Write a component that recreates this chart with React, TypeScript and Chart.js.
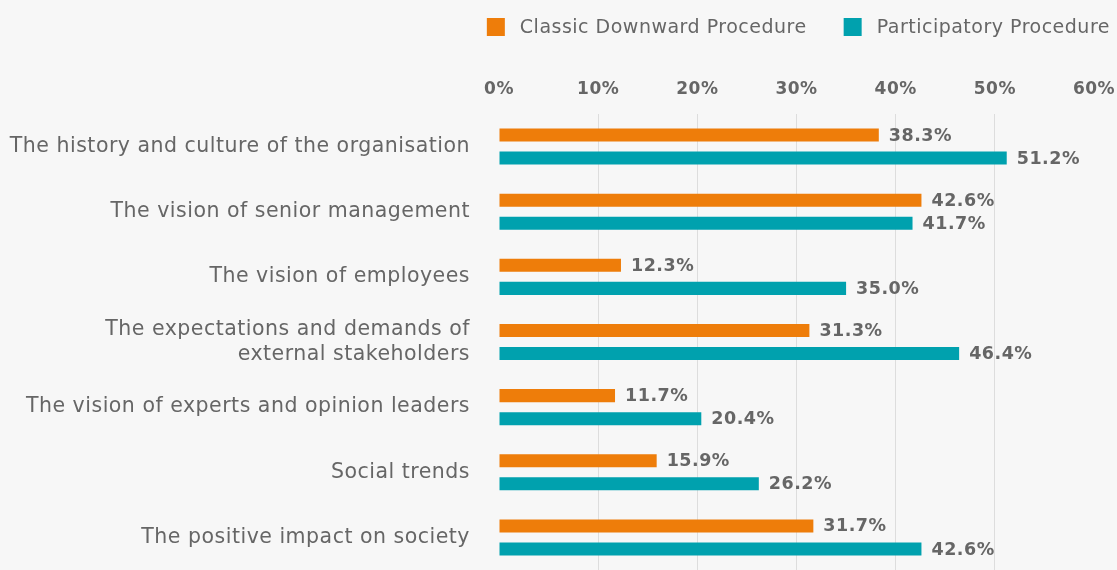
import React, { useEffect, useRef } from "react";
import { Chart, registerables } from "chart.js";

Chart.register(...registerables);

const categories: (string | string[])[] = [
  "The history and culture of the organisation",
  "The vision of senior management",
  "The vision of employees",
  ["The expectations and demands of", "external stakeholders"],
  "The vision of experts and opinion leaders",
  "Social trends",
  "The positive impact on society",
];
const seriesNames = ["Classic Downward Procedure", "Participatory Procedure"];
const classicValues = [38.3, 42.6, 12.3, 31.3, 11.7, 15.9, 31.7];
const participatoryValues = [51.2, 41.7, 35.0, 46.4, 20.4, 26.2, 42.6];
const seriesColors = ["#EE7D0A", "#00A1AE"];
const xMin = 0;
const xMax = 60;
const xStep = 10;

const FONT = "'DejaVu Sans', 'Open Sans', sans-serif";
const TEXT = "#666666";
const BG = "#f7f7f7";
const SPACING = "0.5px";

const spacingPlugin = {
  id: "letterSpacing",
  beforeUpdate(chart: any) {
    chart.ctx.letterSpacing = SPACING;
  },
  beforeDraw(chart: any) {
    chart.ctx.letterSpacing = SPACING;
  },
};

const valueLabelPlugin = {
  id: "valueLabels",
  afterDatasetsDraw(chart: any) {
    const ctx = chart.ctx;
    ctx.save();
    ctx.letterSpacing = SPACING;
    ctx.font = `700 17.5px ${FONT}`;
    ctx.fillStyle = TEXT;
    ctx.textAlign = "left";
    ctx.textBaseline = "middle";
    chart.data.datasets.forEach((ds: any, i: number) => {
      const meta = chart.getDatasetMeta(i);
      meta.data.forEach((bar: any, j: number) => {
        const v = ds.data[j] as number;
        ctx.fillText(v.toFixed(1) + "%", bar.x + 10, bar.y + 1);
      });
    });
    ctx.restore();
  },
};

const legendPlugin = {
  id: "customLegend",
  afterDraw(chart: any) {
    const ctx = chart.ctx;
    ctx.save();
    ctx.letterSpacing = SPACING;
    ctx.font = `400 19px ${FONT}`;
    ctx.textBaseline = "middle";
    ctx.textAlign = "left";
    const box = 18;
    const boxGap = 15;
    const itemGap = 37;
    const right = 1110;
    const items = chart.data.datasets.map((ds: any) => ({
      label: ds.label as string,
      color: ds.backgroundColor as string,
      w: ctx.measureText(ds.label).width,
    }));
    let total = 0;
    items.forEach((it: any, i: number) => {
      total += box + boxGap + it.w + (i > 0 ? itemGap : 0);
    });
    let x = right - total;
    const cy = 27;
    items.forEach((it: any) => {
      ctx.fillStyle = it.color;
      ctx.fillRect(x, cy - box / 2, box, box);
      x += box + boxGap;
      ctx.fillStyle = TEXT;
      ctx.fillText(it.label, x, cy + 1);
      x += it.w + itemGap;
    });
    ctx.restore();
  },
};

export default function App() {
  const ref = useRef<HTMLCanvasElement | null>(null);

  useEffect(() => {
    document.body.style.margin = "0";
    document.body.style.background = BG;
    if (!ref.current) return;
    const chart = new Chart(ref.current, {
      type: "bar",
      data: {
        labels: categories,
        datasets: [
          {
            label: seriesNames[0],
            data: classicValues,
            backgroundColor: seriesColors[0],
            categoryPercentage: 0.708,
            barPercentage: 0.565,
          },
          {
            label: seriesNames[1],
            data: participatoryValues,
            backgroundColor: seriesColors[1],
            categoryPercentage: 0.708,
            barPercentage: 0.565,
          },
        ],
      },
      options: {
        indexAxis: "y",
        animation: false,
        responsive: false,
        maintainAspectRatio: false,
        layout: { padding: { top: 60, right: 23, bottom: 0, left: 0 } },
        plugins: {
          legend: { display: false },
          tooltip: { enabled: false },
        },
        scales: {
          x: {
            position: "top",
            min: xMin,
            max: xMax,
            border: { display: false },
            grid: {
              drawTicks: false,
              color: (c: any) =>
                c.tick && (c.tick.value === xMin || c.tick.value === xMax)
                  ? "rgba(0,0,0,0)"
                  : "#dddddd",
              lineWidth: 1,
            },
            ticks: {
              stepSize: xStep,
              padding: 14,
              color: TEXT,
              font: { family: FONT, size: 17, weight: 600 },
              callback: (v: any) => v + "%",
            },
            afterFit: (s: any) => {
              s.height = 54;
              s.paddingLeft = 0;
              s.paddingRight = 0;
            },
          },
          y: {
            border: { display: false },
            grid: { display: false, drawTicks: false },
            ticks: {
              padding: 29,
              color: TEXT,
              font: { family: FONT, size: 20.5, weight: 400, lineHeight: 1.22 },
            },
            afterFit: (s: any) => {
              s.width = 499;
              s.paddingTop = 0;
              s.paddingBottom = 0;
            },
          },
        },
      },
      plugins: [spacingPlugin, valueLabelPlugin, legendPlugin],
    });
    return () => chart.destroy();
  }, []);

  return (
    <div style={{ width: 1117, height: 570, background: BG }}>
      <canvas ref={ref} width={1117} height={570} style={{ display: "block" }} />
    </div>
  );
}
